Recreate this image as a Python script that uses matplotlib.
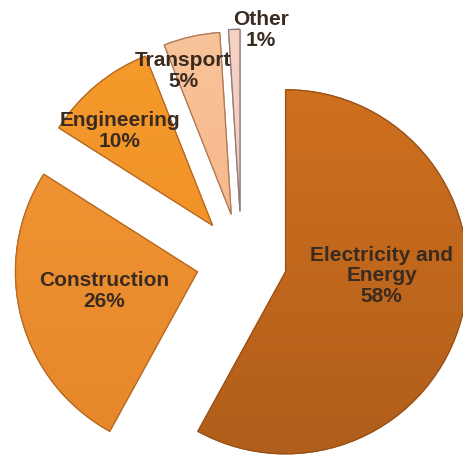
import numpy as np
import matplotlib
matplotlib.use('Agg')
import matplotlib.pyplot as plt
from matplotlib.colors import LinearSegmentedColormap
from matplotlib.patches import PathPatch

# data
sectors = ['Electricity and\nEnergy', 'Construction', 'Engineering', 'Transport', 'Other']
shares = [58, 26, 10, 5, 1]

# styling
explode = [0.25, 0.25, 0.25, 0.26, 0.27]
top_cols = ['#d6741f', '#f59b37', '#f89c2c', '#f9c59c', '#f6d3c6']
bot_cols = ['#b05e1b', '#e5862a', '#ea8a25', '#f3ab78', '#efc1b0']
edge_cols = ['#9a5218', '#b86a20', '#b86a20', '#b07a5a', '#8e7a78']
# label spots (data units, pie radius = 1)
label_xy = [(0.77, -0.085), (-0.755, -0.168), (-0.668, 0.712), (-0.321, 1.041), (0.107, 1.266)]

fig = plt.figure(figsize=(4.64, 4.59), dpi=100)
ax = fig.add_axes([0, 0, 1, 1])

wedges, _ = ax.pie(shares, explode=explode, startangle=90, counterclock=False,
                   colors=top_cols, radius=1.0,
                   wedgeprops=dict(linewidth=0.9))

xl = (-1.327, 1.2225)
yl = (-1.0907, 1.431)

# vertical gradient fill in each wedge
grad = np.linspace(1, 0, 256).reshape(-1, 1)
for w, c1, c2, ec in zip(wedges, top_cols, bot_cols, edge_cols):
    w.set_edgecolor(ec)
    cmap = LinearSegmentedColormap.from_list('g', [c2, c1])
    im = ax.imshow(grad, cmap=cmap, extent=[xl[0], xl[1], yl[0], yl[1]],
                   aspect='auto', zorder=w.get_zorder() + 0.1, origin='upper')
    im.set_clip_path(w)
    # outline on top
    ax.add_patch(PathPatch(w.get_path(), fill=False, edgecolor=ec, linewidth=0.9,
                           zorder=w.get_zorder() + 0.2, transform=w.get_transform()))

for name, val, (x, y) in zip(sectors, shares, label_xy):
    ax.text(x, y, '%s\n%d%%' % (name, val), ha='center', va='center',
            fontsize=15, fontweight='bold', color='#3a2b20',
            family=['Liberation Sans', 'DejaVu Sans'], linespacing=1.12, zorder=10)

ax.set_xlim(*xl)
ax.set_ylim(*yl)
ax.set_aspect('auto')
ax.axis('off')

fig.savefig('out.png', dpi=100)
